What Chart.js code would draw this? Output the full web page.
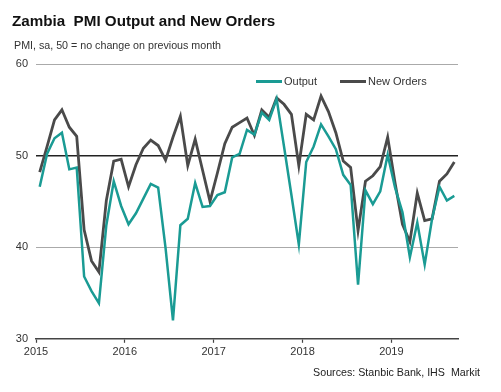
<!DOCTYPE html>
<html>
<head>
<meta charset="utf-8">
<script src="https://cdn.jsdelivr.net/npm/chart.js@4/dist/chart.umd.min.js"></script>
<style>
    body { margin: 0; background: #fff; font-family: "Liberation Sans", Arial, sans-serif; }
    #wrap { position: relative; width: 501px; height: 392px; }
    #chart { position: absolute; left: 0; top: 0; }
    .title { position: absolute; left: 12px; top: 12px; font-size: 15.2px; font-weight: bold; color: #111; white-space: pre; }
    .subtitle { position: absolute; left: 14px; top: 39px; font-size: 10.7px; color: #333; }
    .source { position: absolute; right: 21px; top: 366px; font-size: 10.7px; color: #222; white-space: pre; }
    .legend { position: absolute; top: 75px; font-size: 11px; color: #333; display: flex; align-items: center; }
    .legend span.line { display: inline-block; width: 26px; height: 3px; margin-right: 2px; }
</style>
</head>
<body>
<div id="wrap">
    <canvas id="chart" width="501" height="392"></canvas>
    <div class="title">Zambia  PMI Output and New Orders</div>
    <div class="subtitle">PMI, sa, 50 = no change on previous month</div>
    <div class="legend" style="left:256px"><span class="line" style="background:#1a9b94"></span>Output</div>
    <div class="legend" style="left:340px"><span class="line" style="background:#4a4a4a"></span>New Orders</div>
    <div class="source">Sources: Stanbic Bank, IHS  Markit</div>
</div>
<script>
// Monthly readings, Jan 2015 - Sep 2019
const output = [
    46.6, 50.2, 51.9, 52.5, 48.5, 48.7, 36.8, 35.2, 33.9, 42.4, 47.2, 44.5,
    42.5, 43.7, 45.3, 46.9, 46.5, 39.9, 32.0, 42.4, 43.1, 47.0, 44.4, 44.5,
    45.7, 46.0, 49.8, 50.2, 52.8, 52.3, 54.7, 53.9, 56.2, 51.0, 45.7, 40.3,
    49.3, 51.0, 53.4, 52.1, 50.7, 47.9, 46.8, 35.9, 46.2, 44.7, 46.1, 50.1,
    46.5, 43.8, 38.9, 42.7, 38.1, 43.1, 46.6, 45.1, 45.6
];
const newOrders = [
    48.2, 51.0, 53.9, 55.0, 53.1, 52.1, 41.9, 38.5, 37.3, 45.1, 49.4, 49.6,
    46.6, 49.0, 50.8, 51.7, 51.1, 49.5, 52.0, 54.3, 48.9, 51.8, 48.4, 45.0,
    48.1, 51.3, 53.1, 53.6, 54.1, 52.2, 55.0, 54.2, 56.3, 55.6, 54.5, 48.9,
    54.5, 53.9, 56.5, 54.8, 52.5, 49.4, 48.7, 41.8, 47.2, 47.8, 48.8, 52.0,
    47.0, 42.5, 40.6, 45.9, 42.9, 43.1, 47.2, 48.0, 49.3
];
const yearLabels = ['2015', '2016', '2017', '2018', '2019'];
const yTicks = [30, 40, 50, 60];

// month index -> x position centred in its month
const toPoints = arr => arr.map((v, i) => ({ x: i + 0.5, y: v }));

const ctx = document.getElementById('chart').getContext('2d');
new Chart(ctx, {
    type: 'line',
    data: {
        datasets: [
            {
                label: 'Output',
                data: toPoints(output),
                borderColor: '#1a9b94',
                borderWidth: 2.5,
                pointRadius: 0,
                tension: 0
            },
            {
                label: 'New Orders',
                data: toPoints(newOrders),
                borderColor: '#4a4a4a',
                borderWidth: 2.8,
                pointRadius: 0,
                tension: 0
            }
        ]
    },
    options: {
        responsive: false,
        animation: false,
        layout: { padding: { top: 64, right: 43, bottom: 30, left: 0 } },
        plugins: {
            legend: { display: false },
            tooltip: { enabled: false }
        },
        scales: {
            x: {
                type: 'linear',
                min: 0,
                max: output.length,
                afterBuildTicks: scale => {
                    scale.ticks = yearLabels.map((_, i) => ({ value: i * 12 }));
                },
                ticks: {
                    color: '#333',
                    font: { family: 'Liberation Sans', size: 11 },
                    padding: 3,
                    maxRotation: 0,
                    autoSkip: false,
                    callback: v => yearLabels[v / 12]
                },
                grid: {
                    drawOnChartArea: false,
                    tickLength: 4,
                    tickColor: '#444',
                    tickWidth: 1.2
                },
                border: { display: true, color: '#444', width: 1.5 }
            },
            y: {
                min: 30,
                max: 60,
                afterBuildTicks: scale => {
                    scale.ticks = yTicks.map(v => ({ value: v }));
                },
                afterFit: scale => { scale.width = 36; },
                ticks: {
                    color: '#333',
                    font: { family: 'Liberation Sans', size: 11 },
                    padding: 8
                },
                grid: {
                    drawTicks: false,
                    color: c => c.tick.value === 50 ? '#222' : (c.tick.value === 30 ? 'rgba(0,0,0,0)' : '#aaa'),
                    lineWidth: c => c.tick.value === 50 ? 1.4 : 1,
                    borderDash: c => c.tick.value === 50 ? [] : [2, 1],
                    dash: c => c.tick.value === 50 ? [] : [2, 1]
                },
                border: { display: false }
            }
        }
    }
});
</script>
</body>
</html>
